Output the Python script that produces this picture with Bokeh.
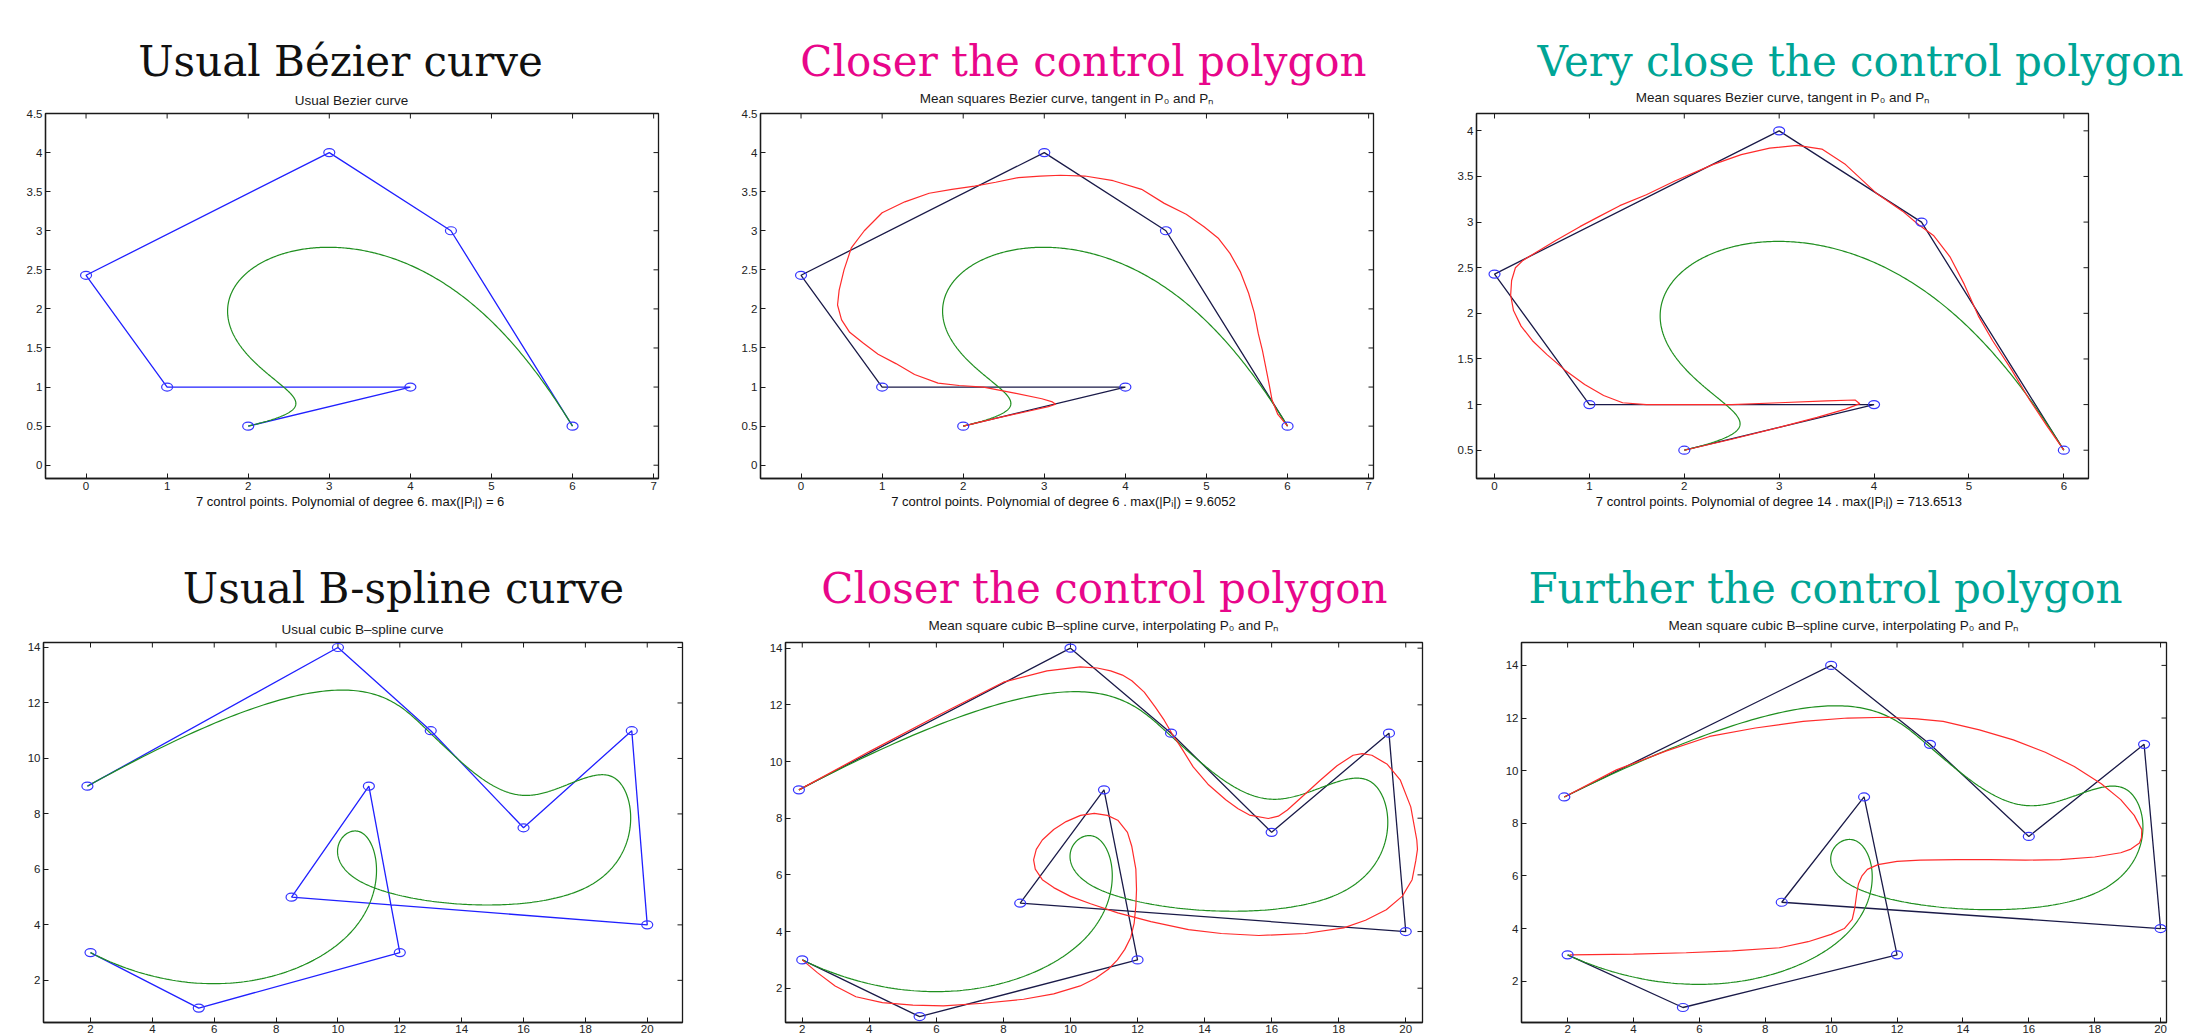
import numpy as np
from bokeh.plotting import figure
from bokeh.models import FixedTicker, CustomJSTickFormatter, Range1d
from bokeh.layouts import row, column
from bokeh.embed import file_html
from bokeh.resources import INLINE
from bokeh.core.properties import value

# ---------------- data ----------------
# Bezier control polygon (top row)
bez_x = [2, 4, 1, 0, 3, 4.5, 6]
bez_y = [0.5, 1, 1, 2.43, 4, 3, 0.5]

# mean squares Bezier curve, degree 6
ms6_x = [2.0, 2.4, 2.8, 3.05, 3.14, 3.1, 2.97, 2.65, 2.25, 1.95, 1.69, 1.4, 1.17, 0.95, 0.77, 0.6, 0.5, 0.45,
         0.47, 0.53, 0.62, 0.78, 1.0, 1.28, 1.58, 1.86, 2.14, 2.4, 2.68, 2.95, 3.2, 3.5, 3.85, 4.2, 4.48, 4.75,
         4.97, 5.15, 5.29, 5.42, 5.52, 5.59, 5.64, 5.69, 5.73, 5.77, 5.81, 5.88, 6.0]
ms6_y = [0.5, 0.6, 0.69, 0.75, 0.78, 0.81, 0.85, 0.92, 1.0, 1.02, 1.05, 1.16, 1.3, 1.42, 1.56, 1.7, 1.86, 2.05,
         2.24, 2.5, 2.78, 3.0, 3.23, 3.37, 3.48, 3.53, 3.57, 3.62, 3.68, 3.7, 3.71, 3.7, 3.64, 3.53, 3.35, 3.21,
         3.05, 2.9, 2.71, 2.47, 2.2, 1.95, 1.68, 1.47, 1.26, 1.05, 0.83, 0.65, 0.5]

# mean squares Bezier curve, degree 14
ms14_x = [2.0, 2.5, 3.0, 3.4, 3.7, 3.85, 3.8, 3.5, 3.0, 2.5, 2.0, 1.6, 1.35, 1.15, 0.95, 0.74, 0.55, 0.4, 0.28,
          0.2, 0.17, 0.18, 0.22, 0.3, 0.44, 0.65, 0.9, 1.1, 1.32, 1.6, 1.9, 2.3, 2.6, 2.9, 3.19, 3.45, 3.7, 4.02,
          4.3, 4.47, 4.63, 4.8, 4.95, 5.1, 5.25, 5.45, 5.64, 5.82, 6.0]
ms14_y = [0.5, 0.62, 0.75, 0.86, 0.95, 1.01, 1.05, 1.04, 1.02, 1.0, 1.0, 1.0, 1.02, 1.1, 1.22, 1.38, 1.55, 1.7,
          1.86, 2.03, 2.2, 2.36, 2.5, 2.58, 2.67, 2.8, 2.95, 3.06, 3.18, 3.3, 3.45, 3.63, 3.74, 3.81, 3.84, 3.8,
          3.63, 3.32, 3.12, 2.97, 2.85, 2.62, 2.32, 1.97, 1.7, 1.38, 1.05, 0.77, 0.5]

# cubic B-spline control polygon (bottom row)
bsp_x = [1.9, 10, 13, 16, 19.5, 20, 8.5, 11, 12, 5.5, 2]
bsp_y = [9, 14, 11, 7.5, 11, 4, 5, 9, 3, 1, 3]

# mean square B-spline "closer"
cl_x = [1.9, 4.0, 6.0, 8.0, 9.3, 10.29, 10.8, 11.2, 11.55, 11.83, 12.2, 12.53, 12.8, 13.03, 13.35, 13.66, 14.1,
        14.64, 15.0, 15.34, 15.9, 16.2, 16.47, 16.95, 17.45, 17.95, 18.43, 18.7, 18.99, 19.45, 19.84, 20.15,
        20.33, 20.35, 20.3, 20.19, 19.9, 19.42, 18.8, 18.15, 17.0, 15.62, 14.5, 13.52, 12.4, 11.41, 10.6, 10.0,
        9.5, 9.16, 8.95, 8.9, 8.98, 9.16, 9.5, 9.87, 10.3, 10.71, 11.1, 11.41, 11.7, 11.83, 11.95, 11.97, 11.95,
        11.9, 11.8, 11.62, 11.4, 11.13, 10.75, 10.29, 9.5, 8.6, 7.4, 6.21, 5.3, 4.39, 3.6, 2.98, 2.45, 2.0]
cl_y = [9.0, 10.35, 11.6, 12.8, 13.2, 13.34, 13.3, 13.2, 13.05, 12.85, 12.45, 11.92, 11.45, 10.98, 10.4, 9.81,
        9.2, 8.64, 8.33, 8.11, 7.99, 8.07, 8.29, 8.8, 9.34, 9.85, 10.22, 10.28, 10.22, 9.9, 9.34, 8.4,
        7.23, 6.9, 6.5, 5.83, 5.25, 4.77, 4.4, 4.13, 3.93, 3.86, 3.93, 4.07, 4.35, 4.66, 4.98, 5.24,
        5.55, 5.83, 6.2, 6.53, 6.9, 7.23, 7.6, 7.88, 8.1, 8.17, 8.1, 7.93, 7.5, 7.0, 6.2, 5.48, 4.9,
        4.3, 3.8, 3.37, 3.0, 2.67, 2.35, 2.08, 1.8, 1.61, 1.47, 1.38, 1.4, 1.49, 1.7, 2.08, 2.55, 3.0]

# mean square B-spline "further"
fu_x = [1.9, 3.48, 5.0, 6.31, 7.7, 9.15, 10.5, 11.7, 12.6, 13.4, 14.5, 15.53, 16.5, 17.38, 18.2, 18.79, 19.2,
        19.43, 19.42, 19.36, 19.1, 18.79, 18.0, 16.95, 15.9, 14.82, 13.8, 12.7, 12.0, 11.42, 11.1, 10.93, 10.83,
        10.78, 10.72, 10.64, 10.4, 10.0, 9.3, 8.44, 7.0, 5.6, 4.0, 2.06]
fu_y = [9.0, 10.03, 10.75, 11.3, 11.62, 11.87, 12.0, 12.03, 11.97, 11.87, 11.55, 11.17, 10.7, 10.16, 9.5, 8.9,
        8.3, 7.76, 7.45, 7.25, 7.02, 6.88, 6.72, 6.62, 6.6, 6.62, 6.62, 6.6, 6.55, 6.43, 6.25, 5.99, 5.7,
        5.36, 4.8, 4.35, 4.0, 3.78, 3.5, 3.27, 3.15, 3.08, 3.03, 3.0]

top_x_ticks = [0, 1, 2, 3, 4, 5, 6, 7]
top_y_ticks = [0, 0.5, 1, 1.5, 2, 2.5, 3, 3.5, 4, 4.5]
p3_x_ticks = [0, 1, 2, 3, 4, 5, 6]
p3_y_ticks = [0.5, 1, 1.5, 2, 2.5, 3, 3.5, 4]
bot_x_ticks = [2, 4, 6, 8, 10, 12, 14, 16, 18, 20]
bot_y_ticks = [2, 4, 6, 8, 10, 12, 14]

top_titles = ["Usual Bézier curve", "Closer the control polygon", "Very close the control polygon"]
bot_titles = ["Usual B-spline curve", "Closer the control polygon", "Further the control polygon"]
title_colors = ["#111111", "#e8068a", "#00a596"]
top_subtitles = ["Usual Bezier curve",
                 "Mean squares Bezier curve, tangent in P\u2080 and P\u2099",
                 "Mean squares Bezier curve, tangent in P\u2080 and P\u2099"]
bot_subtitles = ["Usual cubic B\u2013spline curve",
                 "Mean square cubic B\u2013spline curve, interpolating P\u2080 and P\u2099",
                 "Mean square cubic B\u2013spline curve, interpolating P\u2080 and P\u2099"]
x_labels = ["7 control points. Polynomial of degree 6.  max(|P\u1d62|) = 6",
            "7 control points. Polynomial of degree  6 .  max(|P\u1d62|) = 9.6052",
            "7 control points. Polynomial of degree  14 .  max(|P\u1d62|) = 713.6513"]

# layout constants (pixels)
W = 2209
TOP_STRIP_H, TOP_ROW_H, BOT_STRIP_H, BOT_ROW_H = 108, 450, 80, 398
top_title_x = [340, 1083, 1860]
top_title_mid = 60.5
top_sub_x = [351, 1066, 1782]
top_sub_y = [99.5, 98, 97]
bot_title_x = [403, 1104, 1825]
bot_title_mid = 29.5
bot_sub_x = [362, 1103, 1843]
bot_sub_y = [71, 67, 67]


# ---------------- curves defined by the control points ----------------
def bezier(px, py, n=500):
    t = np.linspace(0, 1, n)
    cx = np.tile(np.array(px, dtype=float), (n, 1))
    cy = np.tile(np.array(py, dtype=float), (n, 1))
    for r in range(1, len(px)):
        cx = (1 - t)[:, None] * cx[:, :-1] + t[:, None] * cx[:, 1:]
        cy = (1 - t)[:, None] * cy[:, :-1] + t[:, None] * cy[:, 1:]
    return cx[:, 0], cy[:, 0]


def bspline(px, py, deg=3, n=800):
    m = len(px)
    nint = m - deg
    knots = np.concatenate([np.zeros(deg), np.arange(nint + 1), np.full(deg, nint)]).astype(float)
    P = np.array([px, py], dtype=float).T
    out = []
    for u in np.linspace(0, nint, n):
        k = min(int(np.searchsorted(knots, u, side="right") - 1), m - 1)
        d = [P[j].copy() for j in range(k - deg, k + 1)]
        for r in range(1, deg + 1):
            for j in range(deg, r - 1, -1):
                i = j + k - deg
                den = knots[i + deg - r + 1] - knots[i]
                a = 0.0 if den == 0 else (u - knots[i]) / den
                d[j] = (1 - a) * d[j - 1] + a * d[j]
        out.append(d[deg])
    out = np.array(out)
    return out[:, 0], out[:, 1]


bez_cx, bez_cy = bezier(bez_x, bez_y)
bsp_cx, bsp_cy = bspline(bsp_x, bsp_y)

BLUE = "#2020ff"
NAVY = "#1a1a48"
GREEN = "#1f8f1f"
RED = "#ff2b2b"
MARK = "#3535ff"
INK = "#1a1a1a"

fmt = CustomJSTickFormatter(code="return String(tick);")


def panel(width, height, bl, br, bt, bb, xr, yr, xt, yt, xlabel=None):
    p = figure(width=width, height=height, x_range=Range1d(*xr), y_range=Range1d(*yr),
               output_backend="svg", toolbar_location=None,
               min_border_left=bl, min_border_right=br, min_border_top=bt, min_border_bottom=bb)
    p.grid.visible = False
    p.outline_line_color = INK
    p.outline_line_width = 1.3
    p.xaxis.ticker = FixedTicker(ticks=xt)
    p.yaxis.ticker = FixedTicker(ticks=yt)
    for ax in p.axis:
        ax.formatter = fmt
        ax.major_tick_in = 5
        ax.major_tick_out = 0
        ax.minor_tick_in = 0
        ax.minor_tick_out = 0
        ax.axis_line_color = INK
        ax.axis_line_width = 1.3
        ax.major_tick_line_color = INK
        ax.major_label_text_font = "Liberation Sans"
        ax.major_label_text_font_size = "11.5px"
        ax.major_label_text_color = "#222222"
        ax.major_label_standoff = 3
    if xlabel is not None:
        ax = p.xaxis[0]
        ax.axis_label = xlabel
        ax.axis_label_text_font = "Liberation Sans"
        ax.axis_label_text_font_size = "13px"
        ax.axis_label_text_font_style = "normal"
        ax.axis_label_text_color = "#111111"
        ax.axis_label_standoff = 1
    else:
        p.xaxis[0].major_label_standoff = 2
    # mirrored (inward) ticks on the top and right edges of the box
    p.scatter(x=xt, y=[yr[1]] * len(xt), marker="dash", size=10, angle=np.pi / 2,
              line_color=INK, line_width=1)
    p.scatter(x=[xr[1]] * len(yt), y=yt, marker="dash", size=10, line_color=INK, line_width=1)
    return p


def markers(p, xs, ys):
    p.ellipse(x=xs, y=ys, width=11, height=8, width_units="screen", height_units="screen",
              fill_color=None, line_color=MARK, line_width=1.2)


def strip(h, tx, tmid, titles, sx, sy, subs):
    s = figure(width=W, height=h, x_range=Range1d(0, W), y_range=Range1d(h, 0),
               output_backend="svg", toolbar_location=None, min_border=0,
               x_axis_type=None, y_axis_type=None)
    s.grid.visible = False
    s.outline_line_color = None
    s.text(x=tx, y=[tmid] * 3, text=titles, text_color=title_colors,
           text_font=value("DejaVu Serif"), text_font_size=value("42px"),
           text_align="center", text_baseline="middle")
    s.text(x=sx, y=sy, text=subs, text_color=INK,
           text_font=value("Liberation Sans"), text_font_size=value("13.5px"),
           text_align="center", text_baseline="middle")
    return s


top_strip = strip(TOP_STRIP_H, top_title_x, top_title_mid, top_titles, top_sub_x, top_sub_y, top_subtitles)
bot_strip = strip(BOT_STRIP_H, bot_title_x, bot_title_mid, bot_titles, bot_sub_x, bot_sub_y, bot_subtitles)

# ---- top row ----
p1 = panel(709, TOP_ROW_H, 45, 51, 5, 80, (-0.5, 7.06), (-0.17, 4.5), top_x_ticks, top_y_ticks, x_labels[0])
p1.line(bez_x, bez_y, line_color=BLUE, line_width=1.3)
p1.line(bez_cx, bez_cy, line_color=GREEN, line_width=1.2)
markers(p1, bez_x, bez_y)

p2 = panel(715, TOP_ROW_H, 51, 51, 5, 80, (-0.5, 7.06), (-0.17, 4.5), top_x_ticks, top_y_ticks, x_labels[1])
p2.line(bez_x, bez_y, line_color=NAVY, line_width=1.3)
p2.line(bez_cx, bez_cy, line_color=GREEN, line_width=1.2)
p2.line(ms6_x, ms6_y, line_color=RED, line_width=1.2)
markers(p2, bez_x, bez_y)

p3 = panel(785, TOP_ROW_H, 52, 121, 5, 80, (-0.19, 6.26), (0.19, 4.19), p3_x_ticks, p3_y_ticks, x_labels[2])
p3.line(bez_x, bez_y, line_color=NAVY, line_width=1.3)
p3.line(bez_cx, bez_cy, line_color=GREEN, line_width=1.2)
p3.line(ms14_x, ms14_y, line_color=RED, line_width=1.2)
markers(p3, bez_x, bez_y)

# ---- bottom row ----
p4 = panel(733, BOT_ROW_H, 43, 51, 4, 14, (0.48, 21.14), (0.48, 14.18), bot_x_ticks, bot_y_ticks)
p4.line(bsp_x, bsp_y, line_color=BLUE, line_width=1.3)
p4.line(bsp_cx, bsp_cy, line_color=GREEN, line_width=1.2)
markers(p4, bsp_x, bsp_y)

p5 = panel(739, BOT_ROW_H, 52, 50, 4, 14, (1.5, 20.5), (0.79, 14.2), bot_x_ticks, bot_y_ticks)
p5.line(bsp_x, bsp_y, line_color=NAVY, line_width=1.3)
p5.line(bsp_cx, bsp_cy, line_color=GREEN, line_width=1.2)
p5.line(cl_x, cl_y, line_color=RED, line_width=1.2)
markers(p5, bsp_x, bsp_y)

p6 = panel(737, BOT_ROW_H, 49, 43, 4, 14, (0.6, 20.18), (0.43, 14.87), bot_x_ticks, bot_y_ticks)
p6.line(bsp_x, bsp_y, line_color=NAVY, line_width=1.3)
p6.line(bsp_cx, bsp_cy, line_color=GREEN, line_width=1.2)
p6.line(fu_x, fu_y, line_color=RED, line_width=1.2)
markers(p6, bsp_x, bsp_y)

layout = column(top_strip, row(p1, p2, p3), bot_strip, row(p4, p5, p6))
open("out.html", "w").write(file_html(layout, INLINE))
